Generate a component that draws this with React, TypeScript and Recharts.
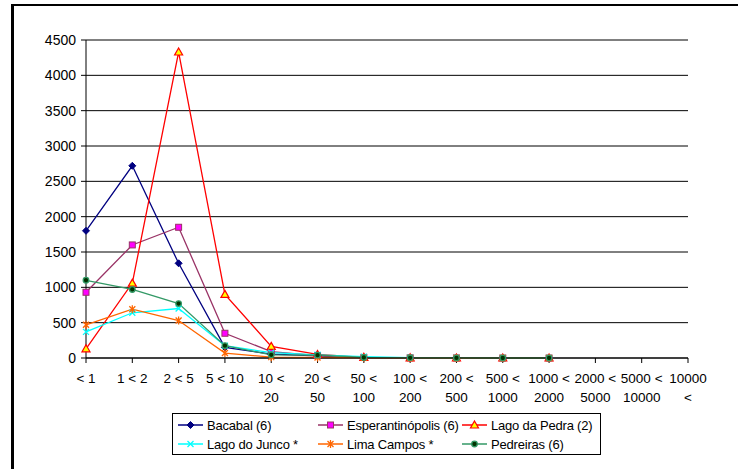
import React from 'react'
import { CartesianGrid, Line, LineChart, XAxis, YAxis } from 'recharts'

// size classes on the x axis
const categories = [
  '< 1', '1 < 2', '2 < 5', '5 < 10', '10 < 20', '20 < 50', '50 < 100',
  '100 < 200', '200 < 500', '500 < 1000', '1000 < 2000', '2000 < 5000',
  '5000 < 10000', '10000 <',
]
const yTicks = [0, 500, 1000, 1500, 2000, 2500, 3000, 3500, 4000, 4500]

const bacabal = [1800, 2720, 1340, 150, 55, 30, 5, 2, 1, 0, 0, null, null, null]
const esperantinopolis = [930, 1600, 1850, 350, 90, 35, 8, 3, 1, 0, 0, null, null, null]
const lagoDaPedra = [130, 1060, 4330, 900, 165, 50, 10, 3, 1, 0, 0, null, null, null]
const lagoDoJunco = [370, 640, 700, 175, 75, 45, 20, 5, 2, 1, 0, null, null, null]
const limaCampos = [470, 690, 530, 70, 12, 8, 2, 1, 0, 0, 0, null, null, null]
const pedreiras = [1100, 970, 770, 175, 45, 40, 8, 3, 1, 0, 0, null, null, null]

const FONT = '"Liberation Sans", Arial, sans-serif'
const AXIS_FONT = 14

type Shape = 'diamond' | 'square' | 'triangle' | 'cross' | 'star' | 'circle'

const SERIES: { key: string; name: string; values: (number | null)[]; line: string; fill: string; stroke: string; shape: Shape }[] = [
  { key: 'bac', name: 'Bacabal (6)', values: bacabal, line: '#000080', fill: '#000080', stroke: '#000080', shape: 'diamond' },
  { key: 'esp', name: 'Esperantinópolis (6)', values: esperantinopolis, line: '#993366', fill: '#ff00ff', stroke: '#993366', shape: 'square' },
  { key: 'lpe', name: 'Lago da Pedra (2)', values: lagoDaPedra, line: '#ff0000', fill: '#ffff00', stroke: '#ff0000', shape: 'triangle' },
  { key: 'lju', name: 'Lago do Junco *', values: lagoDoJunco, line: '#00ffff', fill: 'none', stroke: '#00ffff', shape: 'cross' },
  { key: 'lca', name: 'Lima Campos *', values: limaCampos, line: '#ff6600', fill: 'none', stroke: '#ff6600', shape: 'star' },
  { key: 'ped', name: 'Pedreiras (6)', values: pedreiras, line: '#339966', fill: '#003300', stroke: '#339966', shape: 'circle' },
]

const data = categories.map((c, i) => {
  const row: Record<string, string | number | null> = { cat: c }
  SERIES.forEach(s => { row[s.key] = s.values[i] })
  return row
})

function Marker({ x, y, shape, fill, stroke }: { x: number; y: number; shape: Shape; fill: string; stroke: string }) {
  switch (shape) {
    case 'diamond':
      return <path d={`M${x},${y - 3.5}L${x + 3.5},${y}L${x},${y + 3.5}L${x - 3.5},${y}Z`} fill={fill} stroke={stroke} />
    case 'square':
      return <rect x={x - 3} y={y - 3} width={6} height={6} fill={fill} stroke={stroke} strokeWidth={1} />
    case 'triangle':
      return <path d={`M${x},${y - 4}L${x + 4},${y + 3}L${x - 4},${y + 3}Z`} fill={fill} stroke={stroke} strokeWidth={1.2} />
    case 'cross':
      return <path d={`M${x - 3},${y - 3}L${x + 3},${y + 3}M${x - 3},${y + 3}L${x + 3},${y - 3}`} stroke={stroke} strokeWidth={1.3} />
    case 'star':
      return <path d={`M${x - 3},${y - 3}L${x + 3},${y + 3}M${x - 3},${y + 3}L${x + 3},${y - 3}M${x},${y - 4}L${x},${y + 4}`} stroke={stroke} strokeWidth={1.3} />
    default:
      return <circle cx={x} cy={y} r={2.8} fill={fill} stroke={stroke} strokeWidth={1.3} />
  }
}

function XTick({ x, y, payload }: any) {
  const label: string = payload.value
  // Excel wraps the longer labels after the "<"
  let lines = [label]
  if (label.length > 6) {
    const cut = label.lastIndexOf(' ')
    lines = [label.slice(0, cut), label.slice(cut + 1)]
  }
  return (
    <text x={x} y={y} textAnchor="middle" fontFamily={FONT} fontSize={13.5} fill="#000">
      {lines.map((l, i) => (
        <tspan key={i} x={x} dy={i === 0 ? 18 : 19}>{l}</tspan>
      ))}
    </text>
  )
}

function LegendBox() {
  const cols = [172, 312, 456]
  const lineLen = [25, 25, 25]
  return (
    <div style={{ position: 'absolute', left: 172, top: 413, width: 427, height: 40, border: '1px solid #000', background: '#fff' }}>
      <svg width={427} height={40} style={{ position: 'absolute', left: 0, top: 0 }}>
        {SERIES.map((s, i) => {
          const col = i % 3
          const row = Math.floor(i / 3)
          const x0 = cols[col] - 172 + 5
          const cy = 11 + row * 19
          return (
            <g key={s.key}>
              <line x1={x0} x2={x0 + lineLen[col]} y1={cy} y2={cy} stroke={s.line} strokeWidth={1.5} />
              <Marker x={x0 + lineLen[col] / 2} y={cy} shape={s.shape} fill={s.fill} stroke={s.stroke} />
              <text x={x0 + lineLen[col] + 4} y={cy + 5} fontFamily={FONT} fontSize={13} letterSpacing={-0.2} fill="#000">{s.name}</text>
            </g>
          )
        })}
      </svg>
    </div>
  )
}

export default function App() {
  return (
    <div style={{ position: 'absolute', left: 0, top: 0, width: 738, height: 469, background: '#fff', overflow: 'hidden' }}>
      <div style={{ position: 'absolute', left: 11, top: 4, width: 800, height: 600, borderTop: '2px solid #000', borderLeft: '3px solid #000' }} />
      <div style={{ position: 'absolute', left: 0, top: 0 }}>
        <LineChart width={738} height={469} data={data} margin={{ top: 40, right: 50, bottom: 61, left: 0 }}>
          <CartesianGrid vertical={false} stroke="#000" strokeWidth={1} />
          <XAxis
            dataKey="cat"
            interval={0}
            tick={<XTick />}
            tickSize={5}
            tickLine={{ stroke: '#000' }}
            axisLine={{ stroke: '#000' }}
            height={50}
          />
          <YAxis
            domain={[0, 4500]}
            ticks={yTicks}
            width={86}
            tickSize={5}
            tickMargin={5}
            tick={{ fontFamily: FONT, fontSize: AXIS_FONT, fill: '#000' }}
            tickLine={{ stroke: '#000' }}
            axisLine={{ stroke: '#000' }}
          />
          {SERIES.map(s => (
            <Line
              key={s.key}
              dataKey={s.key}
              name={s.name}
              type="linear"
              stroke={s.line}
              strokeWidth={1.3}
              isAnimationActive={false}
              dot={(p: any) =>
                p.cx == null || p.cy == null || p.value == null
                  ? <g key={p.key} />
                  : <g key={p.key}><Marker x={p.cx} y={p.cy} shape={s.shape} fill={s.fill} stroke={s.stroke} /></g>
              }
              activeDot={false}
            />
          ))}
        </LineChart>
      </div>
      <LegendBox />
    </div>
  )
}
